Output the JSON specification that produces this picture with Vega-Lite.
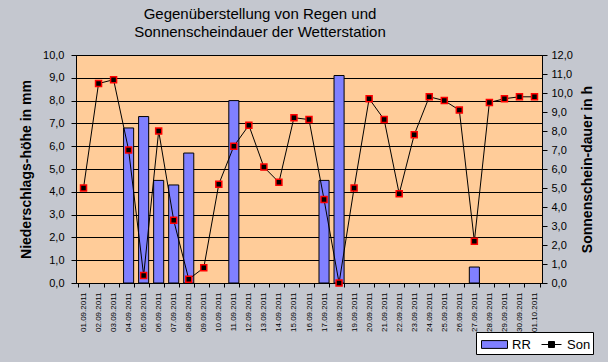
{
  "$schema": "https://vega.github.io/schema/vega-lite/v6.json",
  "width": 466,
  "height": 228,
  "autosize": "none",
  "padding": {"left": 76, "top": 55, "right": 66, "bottom": 79},
  "background": "#c4c7cf",
  "config": {
    "font": "Liberation Sans",
    "view": {"fill": "#ffcc99", "stroke": "black", "strokeWidth": 1},
    "axis": {"domainColor": "black", "tickColor": "black", "labelColor": "black", "titleColor": "black", "domainWidth": 1, "tickWidth": 1}
  },
  "title": {
    "text": ["Gegenüberstellung von Regen und", "Sonnenscheindauer der Wetterstation"],
    "fontSize": 15,
    "fontWeight": "normal",
    "color": "black",
    "anchor": "middle",
    "frame": "group",
    "dx": -49,
    "offset": 9,
    "lineHeight": 18
  },
  "data": {
    "values": [
      {"tag": "01.09.2011", "RR": null, "Son": 5.0},
      {"tag": "02.09.2011", "RR": null, "Son": 10.5},
      {"tag": "03.09.2011", "RR": null, "Son": 10.7},
      {"tag": "04.09.2011", "RR": 6.8, "Son": 7.0},
      {"tag": "05.09.2011", "RR": 7.3, "Son": 0.4},
      {"tag": "06.09.2011", "RR": 4.5, "Son": 8.0},
      {"tag": "07.09.2011", "RR": 4.3, "Son": 3.3},
      {"tag": "08.09.2011", "RR": 5.7, "Son": 0.2},
      {"tag": "09.09.2011", "RR": null, "Son": 0.8},
      {"tag": "10.09.2011", "RR": null, "Son": 5.2},
      {"tag": "11.09.2011", "RR": 8.0, "Son": 7.2},
      {"tag": "12.09.2011", "RR": null, "Son": 8.3},
      {"tag": "13.09.2011", "RR": null, "Son": 6.1},
      {"tag": "14.09.2011", "RR": null, "Son": 5.3},
      {"tag": "15.09.2011", "RR": null, "Son": 8.7},
      {"tag": "16.09.2011", "RR": null, "Son": 8.6},
      {"tag": "17.09.2011", "RR": 4.5, "Son": 4.4},
      {"tag": "18.09.2011", "RR": 9.1, "Son": 0.0},
      {"tag": "19.09.2011", "RR": null, "Son": 5.0},
      {"tag": "20.09.2011", "RR": null, "Son": 9.7},
      {"tag": "21.09.2011", "RR": null, "Son": 8.6},
      {"tag": "22.09.2011", "RR": null, "Son": 4.7},
      {"tag": "23.09.2011", "RR": null, "Son": 7.8},
      {"tag": "24.09.2011", "RR": null, "Son": 9.8},
      {"tag": "25.09.2011", "RR": null, "Son": 9.6},
      {"tag": "26.09.2011", "RR": null, "Son": 9.1},
      {"tag": "27.09.2011", "RR": 0.7, "Son": 2.2},
      {"tag": "28.09.2011", "RR": null, "Son": 9.5},
      {"tag": "29.09.2011", "RR": null, "Son": 9.7},
      {"tag": "30.09.2011", "RR": null, "Son": 9.8},
      {"tag": "01.10.2011", "RR": null, "Son": 9.8}
    ]
  },
  "encoding": {
    "x": {
      "field": "tag",
      "type": "nominal",
      "sort": null,
      "scale": {
        "domain": ["01.09.2011","02.09.2011","03.09.2011","04.09.2011","05.09.2011","06.09.2011","07.09.2011","08.09.2011","09.09.2011","10.09.2011","11.09.2011","12.09.2011","13.09.2011","14.09.2011","15.09.2011","16.09.2011","17.09.2011","18.09.2011","19.09.2011","20.09.2011","21.09.2011","22.09.2011","23.09.2011","24.09.2011","25.09.2011","26.09.2011","27.09.2011","28.09.2011","29.09.2011","30.09.2011","01.10.2011"],
        "paddingInner": 0.33,
        "paddingOuter": 0.165
      },
      "axis": {
        "title": null,
        "labelAngle": -90,
        "labelFont": "Liberation Sans",
        "labelFontSize": 8,
        "tickBand": "extent",
        "tickSize": 4,
        "labelPadding": 5
      }
    }
  },
  "layer": [
    {
      "mark": {"type": "bar", "stroke": "black", "strokeWidth": 1},
      "encoding": {
        "y": {
          "field": "RR",
          "type": "quantitative",
          "scale": {"domain": [0, 10], "nice": false},
          "axis": {
            "title": "Niederschlags-höhe in mm",
            "titleFontSize": 14,
            "titleFontWeight": "bold",
            "titlePadding": 9,
            "values": [0, 1, 2, 3, 4, 5, 6, 7, 8, 9, 10],
            "labelExpr": "replace(format(datum.value, '.1f'), '.', ',')",
            "labelFontSize": 11,
            "tickSize": 5,
            "labelPadding": 7,
            "grid": true,
            "gridColor": "black",
            "gridOpacity": 1,
            "gridWidth": 1
          }
        },
        "fill": {
          "datum": "RR",
          "scale": {"domain": ["RR"], "range": ["#8080ff"]},
          "legend": {
            "orient": "none",
            "legendX": 405,
            "legendY": 276,
            "zindex": 2,
            "title": null,
            "padding": 0,
            "labelFontSize": 13,
            "labelColor": "black",
            "symbolType": "M-1,-0.3H1V0.3H-1Z",
            "symbolSize": 676,
            "symbolStrokeColor": "black",
            "symbolStrokeWidth": 1,
            "labelOffset": 4
          }
        }
      }
    },
    {
      "encoding": {
        "y": {
          "field": "Son",
          "type": "quantitative",
          "scale": {"domain": [0, 12], "nice": false},
          "axis": {
            "orient": "right",
            "title": "Sonnenschein-dauer in h",
            "titleAngle": -90,
            "titleBaseline": "top",
            "titleFontSize": 14,
            "titleFontWeight": "bold",
            "titlePadding": 8,
            "values": [0, 1, 2, 3, 4, 5, 6, 7, 8, 9, 10, 11, 12],
            "labelExpr": "replace(format(datum.value, '.1f'), '.', ',')",
            "labelFontSize": 11,
            "tickSize": 5,
            "labelPadding": 4,
            "grid": false
          }
        }
      },
      "layer": [
        {
          "mark": {"type": "line", "strokeWidth": 1},
          "encoding": {
            "stroke": {
              "datum": "Son",
              "scale": {"domain": ["Son"], "range": ["black"]},
              "legend": {
                "orient": "none",
                "legendX": 400,
                "legendY": 277,
                "zindex": 1,
                "title": " ",
                "titleOrient": "left",
                "titlePadding": 63,
                "titleFontSize": 13,
                "fillColor": "white",
                "strokeColor": "black",
                "padding": 2,
                "labelFontSize": 13,
                "labelColor": "black",
                "symbolType": "M-1,0H1M-0.3,-0.3H0.3V0.3H-0.3Z",
                "symbolSize": 400,
                "symbolStrokeColor": "black",
                "symbolFillColor": "black",
                "symbolStrokeWidth": 1,
                "labelOffset": 5
              }
            }
          }
        },
        {
          "mark": {"type": "point", "shape": "square", "filled": true, "fill": "black", "stroke": "#ff0000", "strokeWidth": 1.5, "size": 36, "opacity": 1}
        }
      ]
    }
  ],
  "resolve": {"scale": {"y": "independent"}}
}
